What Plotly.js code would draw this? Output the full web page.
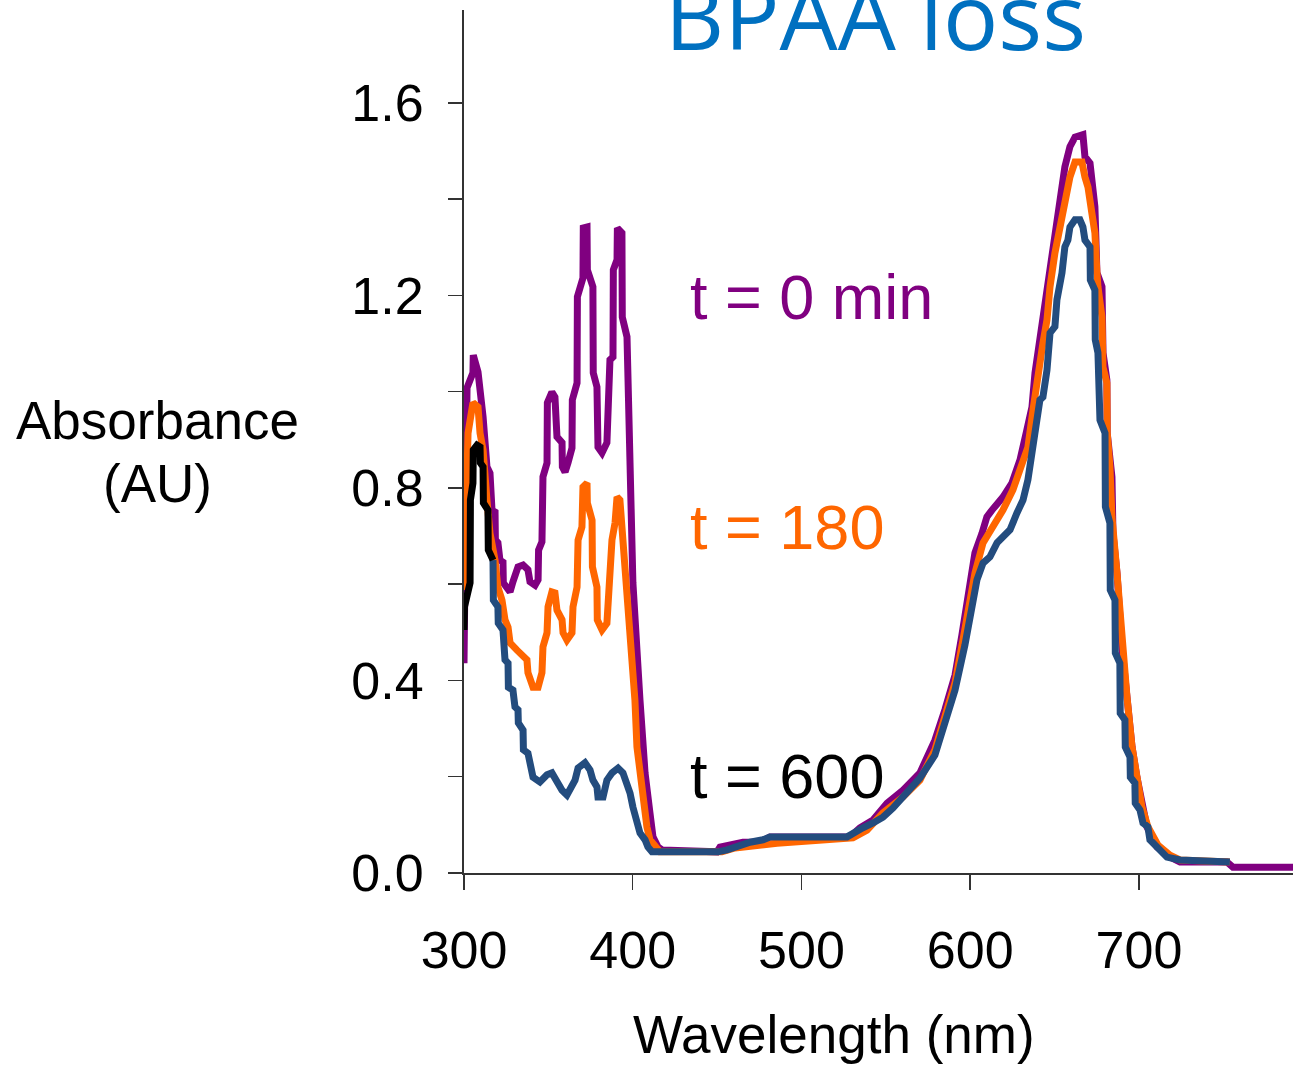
<!DOCTYPE html>
<html>
<head>
<meta charset="utf-8">
<script src="https://cdn.plot.ly/plotly-3.0.1.min.js"></script>
<style>html,body{margin:0;padding:0;background:#fff;}#chart{width:1293px;height:1066px;}</style>
</head>
<body>
<div id="chart"></div>
<script>
// ---- data ----
const chartTitle = "BPAA loss";
const xTitle = "Wavelength (nm)";
const yTitleLines = ["Absorbance", "(AU)"];
const xTickVals = [300, 400, 500, 600, 700];
const seriesLabels = ["t = 0 min", "t = 180", "t = 600"];

// t = 0 min (purple)
const wl0 = [300, 300.6, 301.8, 305.3, 305.5, 308.3, 311.3, 313.6, 315.4, 316.6, 318.4, 318.6, 320.1, 321.3, 323.1, 323.3,
  327.3, 329.0, 332.0, 335.0, 337.9, 339.1, 342.1, 343.9, 344.2, 346.2, 346.8, 349.2, 349.4, 352.1, 353.9, 355.1, 358.1, 358.3,
  359.9, 361.6, 364.0, 364.2, 367.0, 367.2, 368.7, 370.5, 370.7, 372.9, 373.1, 374.7, 376.4, 376.6, 378.8, 379.4, 381.8, 384.7,
  386.5, 388.3, 388.5, 390.7, 390.9, 393.6, 393.8, 396.6, 398.4, 400.1, 404.3, 407.3, 410.2, 412.0, 415.0, 417.3, 449.9,
  451.7, 465.3, 475.4, 481.3, 528.7, 534.7, 542.4, 550.7, 560.2, 570.2, 579.1, 585.0, 591.0, 595.1, 598.1, 602.8, 607.0,
  609.9, 612.9, 619.4, 624.7, 629.5, 633.6, 636.6, 638.4, 641.3, 644.3, 647.3, 650.2, 653.2, 656.1, 659.1, 662.1, 666.8,
  668.0, 671.0, 672.1, 673.9, 675.1, 678.1, 678.7, 681.0, 681.2, 684.0, 684.6, 687.0, 689.9, 692.9, 695.9, 698.8, 701.8,
  704.7, 710.7, 718.4, 724.3, 752.1, 755.7, 791.3];
const abs0 = [0.436, 0.692, 1.008, 1.039, 1.076, 1.041, 0.948, 0.844, 0.831, 0.754, 0.750, 0.692, 0.686, 0.650, 0.646, 0.603,
  0.584, 0.605, 0.636, 0.640, 0.630, 0.605, 0.598, 0.609, 0.671, 0.688, 0.823, 0.852, 0.977, 0.999, 0.989, 0.906, 0.894, 0.844,
  0.833, 0.852, 0.883, 0.983, 1.018, 1.197, 1.216, 1.236, 1.340, 1.342, 1.253, 1.238, 1.218, 1.039, 1.010, 0.885, 0.873, 0.894,
  1.066, 1.072, 1.253, 1.274, 1.340, 1.330, 1.155, 1.114, 0.894, 0.603, 0.359, 0.208, 0.125, 0.075, 0.054, 0.048, 0.044,
  0.054, 0.064, 0.064, 0.075, 0.075, 0.094, 0.110, 0.145, 0.172, 0.208, 0.276, 0.339, 0.411, 0.495, 0.567, 0.665, 0.706,
  0.740, 0.754, 0.781, 0.810, 0.858, 0.921, 0.968, 1.039, 1.108, 1.191, 1.268, 1.330, 1.405, 1.467, 1.509, 1.529, 1.534,
  1.488, 1.475, 1.434, 1.384, 1.247, 1.218, 1.081, 1.024, 0.914, 0.823, 0.706, 0.623, 0.470, 0.366, 0.262, 0.199, 0.137,
  0.096, 0.054, 0.033, 0.023, 0.023, 0.012, 0.012];

// t = 180 (orange)
const wl180 = [300, 302.4, 305.3, 308.3, 309.5, 311.3, 313.6, 315.4, 318.4, 320.1, 322.5, 324.3, 326.1, 327.3, 331.4, 334.4,
  337.3, 337.9, 340.9, 343.9, 346.2, 346.8, 349.2, 349.8, 352.1, 353.9, 355.1, 358.1, 358.7, 361.0, 364.0, 364.6, 367.0,
  367.6, 369.9, 370.5, 372.9, 373.1, 375.9, 376.1, 378.8, 379.0, 381.8, 384.7, 386.5, 387.7, 389.5, 390.7, 392.4, 393.6,
  395.4, 397.2, 399.6, 401.3, 402.5, 405.5, 407.3, 408.4, 410.2, 413.2, 416.1, 452.9, 460.6, 485.5, 530.5, 538.8, 548.3,
  560.2, 570.2, 579.1, 585.0, 591.0, 595.7, 599.9, 602.8, 607.6, 613.5, 619.4, 625.3, 630.7, 634.2, 637.2, 640.1, 643.1,
  645.5, 647.3, 650.2, 653.2, 656.1, 659.1, 662.1, 666.2, 668.0, 669.8, 672.1, 673.9, 675.1, 675.7, 678.1, 678.7, 681.0,
  681.2, 682.8, 684.0, 687.0, 689.9, 692.9, 695.9, 698.8, 701.8, 705.3, 711.3, 718.4, 724.3, 753.9];
const abs180 = [0.588, 0.914, 0.977, 0.968, 0.914, 0.879, 0.775, 0.706, 0.650, 0.594, 0.567, 0.526, 0.511, 0.478, 0.463, 0.453,
  0.443, 0.416, 0.386, 0.386, 0.416, 0.470, 0.499, 0.553, 0.584, 0.582, 0.546, 0.526, 0.499, 0.484, 0.499, 0.553, 0.594,
  0.692, 0.719, 0.802, 0.810, 0.769, 0.733, 0.636, 0.594, 0.526, 0.505, 0.519, 0.603, 0.692, 0.727, 0.781, 0.775, 0.719,
  0.665, 0.594, 0.484, 0.359, 0.262, 0.166, 0.125, 0.096, 0.069, 0.054, 0.044, 0.044, 0.052, 0.062, 0.073, 0.089, 0.125,
  0.158, 0.193, 0.256, 0.322, 0.395, 0.484, 0.567, 0.623, 0.686, 0.719, 0.754, 0.796, 0.844, 0.885, 0.962, 1.039, 1.101,
  1.149, 1.218, 1.288, 1.342, 1.405, 1.446, 1.477, 1.477, 1.446, 1.425, 1.371, 1.330, 1.247, 1.218, 1.155, 1.051, 1.018,
  0.914, 0.844, 0.740, 0.623, 0.470, 0.366, 0.262, 0.199, 0.137, 0.096, 0.058, 0.037, 0.027, 0.023];

// t = 600, first part (black)
const wl600a = [300, 300.3, 303.6, 303.8, 305.3, 305.5, 307.7, 309.5, 309.7, 311.3, 311.5, 314.2, 314.4, 317.2];
const abs600a = [0.505, 0.553, 0.603, 0.775, 0.810, 0.879, 0.889, 0.885, 0.852, 0.844, 0.769, 0.754, 0.671, 0.650];

// t = 600, rest of spectrum (navy)
const wl600b = [317.2, 317.4, 320.1, 320.3, 323.1, 324.3, 326.1, 326.3, 329.0, 330.2, 332.0, 332.2, 335.0, 335.2, 337.9, 339.1,
  340.9, 345.0, 349.2, 352.1, 355.1, 358.1, 361.0, 364.0, 365.8, 367.6, 371.7, 374.7, 376.4, 378.8, 379.4, 382.4, 384.7,
  387.7, 391.3, 394.2, 396.6, 398.4, 400.1, 402.5, 404.3, 407.3, 409.0, 411.4, 450.5, 455.9, 463.6, 469.5, 477.2, 481.3,
  527.0, 530.5, 536.4, 542.4, 548.3, 554.2, 562.5, 570.2, 579.1, 585.0, 591.0, 596.9, 601.6, 604.0, 607.6, 611.7, 615.9,
  619.4, 623.6, 627.7, 631.3, 634.2, 636.6, 639.6, 641.3, 643.1, 645.5, 647.3, 650.2, 651.4, 654.4, 656.1, 657.9, 659.1,
  662.1, 665.0, 666.8, 668.0, 671.0, 671.2, 673.9, 674.1, 675.7, 676.9, 679.9, 680.1, 682.8, 683.0, 685.8, 686.0, 688.7,
  688.9, 691.7, 691.9, 694.7, 694.9, 697.6, 697.8, 700.6, 702.4, 705.3, 706.5, 710.7, 714.2, 716.6, 724.3, 753.9];
const abs600b = [0.650, 0.567, 0.553, 0.519, 0.505, 0.443, 0.436, 0.386, 0.380, 0.345, 0.339, 0.312, 0.297, 0.256, 0.249, 0.229,
  0.199, 0.189, 0.204, 0.208, 0.187, 0.172, 0.162, 0.179, 0.193, 0.218, 0.229, 0.214, 0.193, 0.179, 0.158, 0.158, 0.193,
  0.208, 0.218, 0.208, 0.187, 0.166, 0.137, 0.104, 0.083, 0.069, 0.054, 0.044, 0.044, 0.048, 0.058, 0.064, 0.069, 0.075,
  0.075, 0.083, 0.094, 0.104, 0.116, 0.135, 0.166, 0.197, 0.245, 0.308, 0.380, 0.474, 0.567, 0.609, 0.644, 0.657, 0.686,
  0.698, 0.713, 0.748, 0.775, 0.817, 0.873, 0.921, 0.983, 0.989, 1.045, 1.122, 1.135, 1.191, 1.247, 1.301, 1.315, 1.342,
  1.357, 1.357, 1.342, 1.315, 1.301, 1.232, 1.211, 1.108, 1.081, 0.941, 0.914, 0.761, 0.727, 0.588, 0.567, 0.457, 0.436,
  0.332, 0.318, 0.262, 0.241, 0.199, 0.187, 0.145, 0.131, 0.104, 0.096, 0.069, 0.054, 0.042, 0.033, 0.027, 0.023];

const colPurple = "#800080", colOrange = "#FF6600", colNavy = "#234C7E", colBlack = "#000000";
const font = "Arial, 'Liberation Sans', sans-serif";
const lw = 7;

const traces = [
  {x: wl0, y: abs0, mode: "lines", line: {color: colPurple, width: lw}, name: seriesLabels[0]},
  {x: wl180, y: abs180, mode: "lines", line: {color: colOrange, width: lw}, name: seriesLabels[1]},
  {x: wl600b, y: abs600b, mode: "lines", line: {color: colNavy, width: lw}, name: seriesLabels[2]},
  {x: wl600a, y: abs600a, mode: "lines", line: {color: colBlack, width: lw}, name: seriesLabels[2]}
];

const layout = {
  width: 1293, height: 1066,
  margin: {l: 464, r: 0, t: 10, b: 193},
  paper_bgcolor: "#fff", plot_bgcolor: "#fff",
  showlegend: false,
  font: {family: font, color: "#000", size: 52},
  title: {text: chartTitle, font: {family: "'Open Sans', sans-serif", size: 92, color: "#0070C0"},
          xref: "container", x: 0.677, xanchor: "center", yref: "container", y: 0.983, yanchor: "middle"},
  xaxis: {
    range: [300, 791.3], tickvals: xTickVals, ticks: "outside", ticklen: 15, tickwidth: 1.5, tickcolor: "#333",
    showline: true, linecolor: "#333", linewidth: 2, showgrid: false, zeroline: false,
    tickfont: {size: 52, family: font}, ticklabelstandoff: 16
  },
  yaxis: {
    range: [0, 1.793], dtick: 0.4, tick0: 0, tickformat: ".1f", ticks: "outside", ticklen: 14, tickwidth: 1.5, tickcolor: "#333",
    showline: true, linecolor: "#333", linewidth: 2, showgrid: false, zeroline: false,
    tickfont: {size: 52, family: font}, ticklabelstandoff: 14,
    minor: {dtick: 0.2, ticks: "outside", ticklen: 14, tickwidth: 1.5, tickcolor: "#333", showgrid: false}
  },
  annotations: [
    {text: seriesLabels[0], xref: "paper", yref: "paper", x: 0.2702, y: 0.6674, xanchor: "left", yanchor: "middle",
     showarrow: false, font: {size: 63, color: colPurple, family: font}},
    {text: seriesLabels[1], xref: "paper", yref: "paper", x: 0.2702, y: 0.4009, xanchor: "left", yanchor: "middle",
     showarrow: false, font: {size: 63, color: colOrange, family: font}},
    {text: seriesLabels[2], xref: "paper", yref: "paper", x: 0.2702, y: 0.1124, xanchor: "left", yanchor: "middle",
     showarrow: false, font: {size: 63, color: colBlack, family: font}},
    {text: yTitleLines[0], xref: "paper", yref: "paper", x: -0.3703, y: 0.5249, xanchor: "center", yanchor: "middle",
     showarrow: false, font: {size: 53, color: "#000", family: font}},
    {text: yTitleLines[1], xref: "paper", yref: "paper", x: -0.3703, y: 0.4508, xanchor: "center", yanchor: "middle",
     showarrow: false, font: {size: 53, color: "#000", family: font}},
    {text: xTitle, xref: "paper", yref: "paper", x: 0.4463, y: -0.1877, xanchor: "center", yanchor: "middle",
     showarrow: false, font: {size: 53, color: "#000", family: font}}
  ]
};

Plotly.newPlot("chart", traces, layout, {staticPlot: true, displayModeBar: false});
</script>
</body>
</html>
